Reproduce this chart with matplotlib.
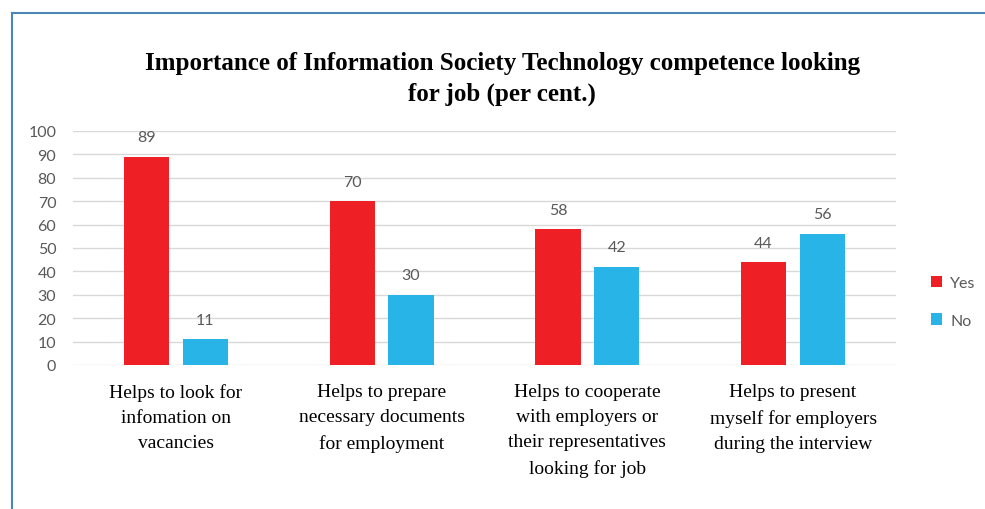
import numpy as np
import matplotlib
matplotlib.use('Agg')
import matplotlib.pyplot as plt
from matplotlib.lines import Line2D

categories = [
    'Helps to look for\ninfomation on\nvacancies',
    'Helps to prepare\nnecessary documents\nfor employment',
    'Helps to cooperate\nwith employers or\ntheir representatives\nlooking for job',
    'Helps to present\nmyself for employers\nduring the interview',
]
yes_vals = [89, 70, 58, 44]
no_vals = [11, 30, 42, 56]
series_names = ['Yes', 'No']

RED = '#EE1F25'
BLUE = '#29B4E8'
GRAY = '#595959'

fig = plt.figure(figsize=(9.85, 5.1), dpi=100)
ax = fig.add_axes([0.0741, 0.2824, 0.8355, 0.4588])

x = np.arange(len(categories))
w = 0.22
off = 0.143
b1 = ax.bar(x - off, yes_vals, w, color=RED, label=series_names[0], zorder=3)
b2 = ax.bar(x + off, no_vals, w, color=BLUE, label=series_names[1], zorder=3)

for bars in (b1, b2):
    for b in bars:
        ax.annotate(f'{b.get_height():.0f}', (b.get_x() + b.get_width() / 2, b.get_height()),
                    xytext=(0, 9), textcoords='offset points', ha='center', va='bottom',
                    fontsize=11.5, color=GRAY, family='Lato')

ax.set_xlim(-0.5, len(categories) - 0.5)
ax.set_ylim(0, 100)
ax.set_yticks(range(0, 101, 10))
ax.yaxis.grid(True, color='#D9D9D9', linewidth=1, zorder=0)
ax.set_axisbelow(True)
for s in ax.spines.values():
    s.set_visible(False)
ax.tick_params(axis='y', length=0, pad=12, labelsize=11.5, labelcolor=GRAY)
ax.tick_params(axis='x', length=0, pad=13)
for lab in ax.get_yticklabels():
    lab.set_family('Lato')
ax.set_xticks(x)
ax.set_xticklabels(categories, family='Liberation Serif', fontsize=14,
                   linespacing=1.62, va='top', ha='center', color='black')

ax.legend(loc='center left', bbox_to_anchor=(1.025, 0.27), frameon=False,
          prop={'family': 'Lato', 'size': 11.5}, labelcolor=GRAY,
          handlelength=0.7, handleheight=0.7, handletextpad=0.5, labelspacing=1.45)

fig.text(0.51, 0.845, 'Importance of Information Society Technology competence looking\nfor job (per cent.)',
         ha='center', va='center', fontsize=18, fontweight='bold',
         family='Liberation Serif', linespacing=1.45)

# frame around the chart area
fig.add_artist(Line2D([0.0125, 0.0125], [0, 0.972], color='#4A86B8', linewidth=1.5))
fig.add_artist(Line2D([0.0125, 1.0], [0.972, 0.972], color='#4A86B8', linewidth=1.5))

fig.savefig('out.png', dpi=100)
